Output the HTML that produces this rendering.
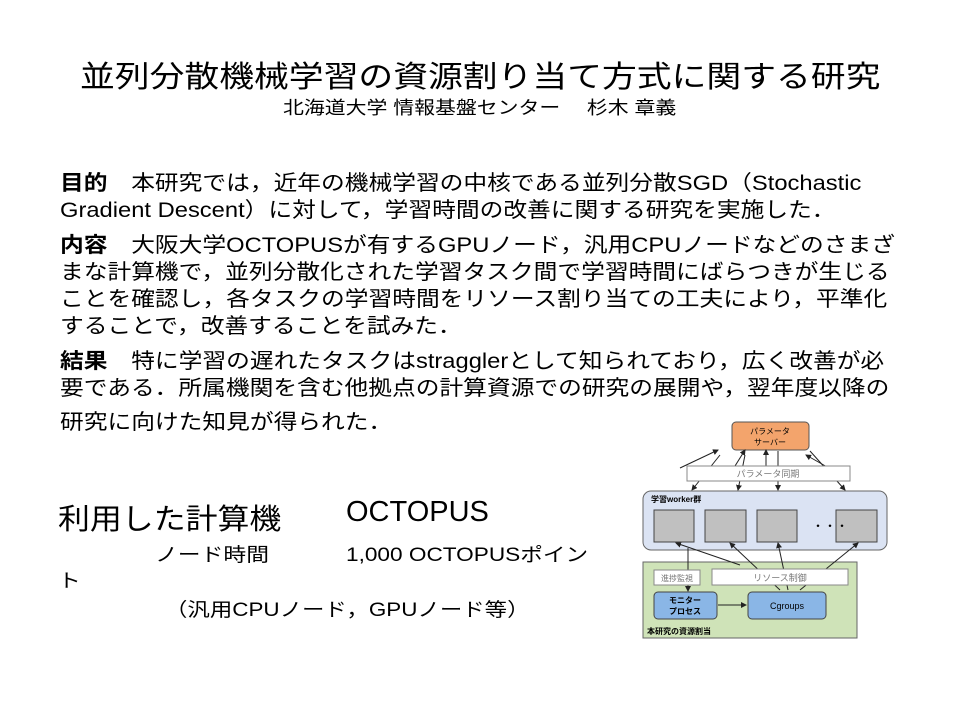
<!DOCTYPE html>
<html><head><meta charset="utf-8"><style>
body{margin:0;width:960px;height:720px;background:#fff;position:relative;overflow:hidden;font-family:"Liberation Sans","Noto Sans CJK JP",sans-serif;color:#000}
.a{position:absolute;white-space:nowrap;transform-origin:0 0}
.l{font-size:21px;left:60px;line-height:27px;transform:scaleX(1.13)}
b{font-weight:bold}
</style></head><body>
<div class="a" style="top:52px;left:80px;font-size:30px;transform:scaleX(1.16)">並列分散機械学習の資源割り当て方式に関する研究</div>
<div class="a" style="top:94px;left:283px;font-size:18px;transform:scaleX(1.16)">北海道大学 情報基盤センター　 杉木 章義</div>
<div class="a l" style="top:170px"><b>目的</b>　本研究では，近年の機械学習の中核である並列分散SGD（Stochastic</div>
<div class="a l" style="top:197px">Gradient Descent）に対して，学習時間の改善に関する研究を実施した．</div>
<div class="a l" style="top:232px"><b>内容</b>　大阪大学OCTOPUSが有するGPUノード，汎用CPUノードなどのさまざ</div>
<div class="a l" style="top:259px">まな計算機で，並列分散化された学習タスク間で学習時間にばらつきが生じる</div>
<div class="a l" style="top:286px">ことを確認し，各タスクの学習時間をリソース割り当ての工夫により，平準化</div>
<div class="a l" style="top:313px">することで，改善することを試みた．</div>
<div class="a l" style="top:348px"><b>結果</b>　特に学習の遅れたタスクはstragglerとして知られており，広く改善が必</div>
<div class="a l" style="top:375px">要である．所属機関を含む他拠点の計算資源での研究の展開や，翌年度以降の</div>
<div class="a l" style="top:409px">研究に向けた知見が得られた．</div>
<div class="a" style="top:496px;left:58px;font-size:29px;transform:scaleX(1.1)">利用した計算機</div>
<div class="a" style="top:496px;left:346px;font-size:29px">OCTOPUS</div>
<div class="a" style="top:540px;left:155px;font-size:19px;transform:scaleX(1.2)">ノード時間</div>
<div class="a" style="top:540px;left:346px;font-size:19px;transform:scaleX(1.19)">1,000 OCTOPUSポイン</div>
<div class="a" style="top:566px;left:58px;font-size:19px;transform:scaleX(1.2)">ト</div>
<div class="a" style="top:595px;left:165px;font-size:19px;transform:scaleX(1.18)">（汎用CPUノード，GPUノード等）</div>
<svg class="a" style="left:0;top:0" width="960" height="720" font-family="Liberation Sans,Noto Sans CJK JP,sans-serif">
<defs><marker id="m" markerWidth="6" markerHeight="6" refX="5" refY="3" orient="auto"><path d="M0,0L6,3L0,6z" fill="#222"/></marker></defs>
<rect x="643" y="562" width="214" height="76" fill="#cfe3b8" stroke="#666"/>
<rect x="643" y="491" width="244" height="59" rx="8" fill="#dbe3f3" stroke="#666"/>
<rect x="732" y="422" width="77" height="28" rx="4" fill="#f3a46c" stroke="#555"/>
<text x="770" y="434" font-size="8" text-anchor="middle">パラメータ</text>
<text x="770" y="445" font-size="8" text-anchor="middle">サーバー</text>
<g stroke="#222" stroke-width="1" marker-end="url(#m)">
<line x1="680" y1="468" x2="718" y2="450"/><line x1="735" y1="466" x2="745" y2="450"/><line x1="766" y1="466" x2="766" y2="450"/>
<line x1="778" y1="451" x2="778" y2="490"/><line x1="810" y1="451" x2="845" y2="490"/>
<line x1="720" y1="455" x2="692" y2="490"/><line x1="745" y1="455" x2="738" y2="490"/><line x1="843" y1="476" x2="806" y2="455"/>
<line x1="688" y1="548" x2="688" y2="591"/><line x1="718" y1="605" x2="746" y2="605"/>
<line x1="740" y1="565" x2="676" y2="543"/><line x1="780" y1="590" x2="730" y2="543"/><line x1="788" y1="590" x2="778" y2="543"/><line x1="800" y1="590" x2="858" y2="543"/>
</g>
<rect x="687" y="466" width="163" height="15" fill="#fff" stroke="#888"/>
<text x="768" y="477" font-size="9" fill="#777" text-anchor="middle">パラメータ同期</text>
<text x="651" y="502" font-size="8" font-weight="bold">学習worker群</text>
<g fill="#c0c0c0" stroke="#444"><rect x="654" y="510" width="40" height="32"/><rect x="705" y="510" width="41" height="32"/><rect x="757" y="510" width="40" height="32"/><rect x="836" y="510" width="41" height="32"/></g>
<text x="812" y="530" font-size="12">・・・</text>
<rect x="654" y="570" width="46" height="15" fill="#fff" stroke="#888"/>
<text x="677" y="581" font-size="8" fill="#777" text-anchor="middle">進捗監視</text>
<rect x="712" y="569" width="136" height="16" fill="#fff" stroke="#888"/>
<text x="780" y="581" font-size="9" fill="#777" text-anchor="middle">リソース制御</text>
<rect x="654" y="592" width="63" height="27" rx="4" fill="#8ab6e6" stroke="#444"/>
<text x="685" y="603" font-size="8" font-weight="bold" text-anchor="middle">モニター</text>
<text x="685" y="614" font-size="8" font-weight="bold" text-anchor="middle">プロセス</text>
<rect x="748" y="592" width="78" height="27" rx="4" fill="#8ab6e6" stroke="#444"/>
<text x="787" y="609" font-size="9" text-anchor="middle">Cgroups</text>
<text x="647" y="634" font-size="8" font-weight="bold">本研究の資源割当</text>
</svg>
</body></html>
